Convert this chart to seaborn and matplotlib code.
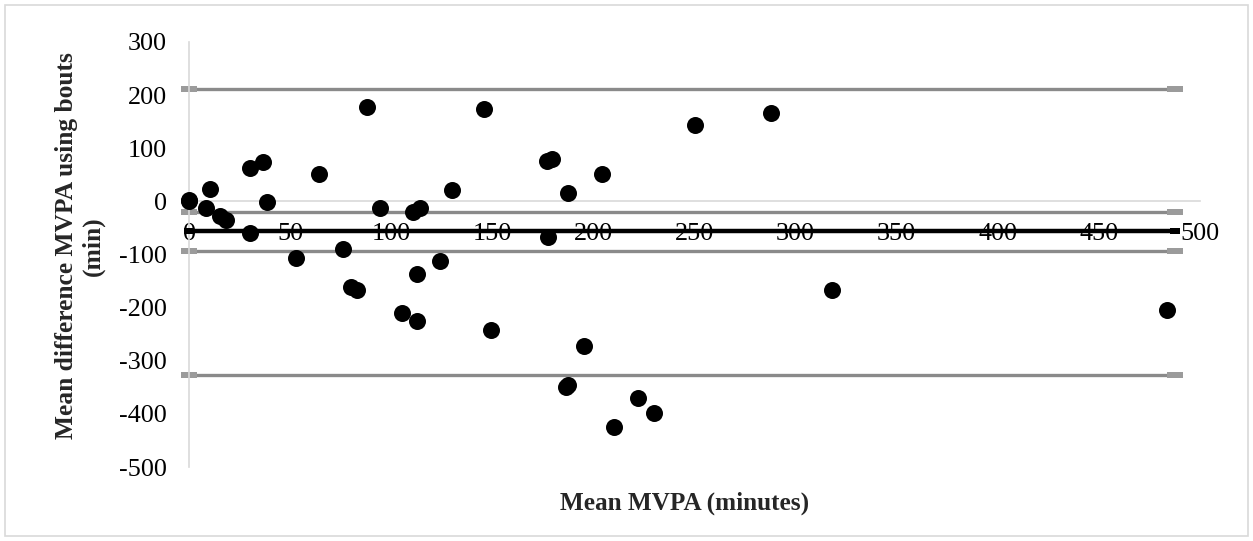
import matplotlib
matplotlib.use("Agg")
import matplotlib.pyplot as plt
import seaborn as sns
import pandas as pd
from matplotlib.patches import Rectangle

# Data
mean_mvpa = [0, 0, 8.4, 10.4, 15.3, 18.3, 30.0, 36.8, 38.7, 30.2, 52.8, 64.3,
             76.3, 80.1, 82.9, 87.9, 94.5, 105.5, 111.0, 112.6, 112.9, 114.2,
             124.0, 129.9, 146.0, 149.6, 176.9, 179.4, 177.3, 186.4, 187.6,
             187.6, 195.5, 204.4, 210.3, 222.2, 229.9, 250.0, 287.8, 318.1, 483.8]
mean_diff = [0, 2, -12, 23, -27, -35, 63, 74, -2, -59, -106, 51,
             -89, -161, -166, 177, -12, -210, -20, -136, -226, -12,
             -112, 21, 174, -243, 76, 80, -67, -349, -345,
             16, -272, 51, -425, -370, -398, 143, 167, -166, -204]

# Reference lines (limits of agreement, CI of the mean, mean bias)
line_x = [0, 487.6]
gray_levels = [211, -20, -94, -327]
mean_bias = -56

x_ticks = [0, 50, 100, 150, 200, 250, 300, 350, 400, 450, 500]
y_ticks = [300, 200, 100, 0, -100, -200, -300, -400, -500]

sns.set_theme(style="white")
plt.rcParams["font.family"] = ["Liberation Serif", "DejaVu Serif"]

W, H = 1253, 541
fig = plt.figure(figsize=(W / 100, H / 100), dpi=100)
ax = fig.add_axes([189 / W, 1 - 467 / H, (1200 - 189) / W, (467 - 42) / H])

df = pd.DataFrame({"x": mean_mvpa, "y": mean_diff})

dash_marker = [(-1.5, -0.5), (1.5, -0.5), (1.5, 0.5), (-1.5, 0.5), (-1.5, -0.5)]
box_marker = [(-0.75, -0.5), (0.75, -0.5), (0.75, 0.5), (-0.75, 0.5), (-0.75, -0.5)]

for lvl in gray_levels:
    ax.plot(line_x, [lvl, lvl], color="#8a8a8a", lw=2.4, marker=dash_marker,
            markersize=11, markerfacecolor="#9b9b9b", markeredgewidth=0,
            solid_capstyle="butt", zorder=2, clip_on=False)
ax.plot(line_x, [mean_bias, mean_bias], color="black", lw=3.2, marker=box_marker,
        markersize=6.5, markerfacecolor="black", markeredgewidth=0, zorder=3,
        clip_on=False)

sns.scatterplot(data=df, x="x", y="y", ax=ax, color="black", s=150,
                linewidth=0, zorder=4, clip_on=False)

ax.set_xlim(0, 500)
ax.set_ylim(-500, 300)
ax.set_xticks(x_ticks)
ax.set_yticks(y_ticks)
ax.set_xticklabels([str(t) for t in x_ticks])
ax.set_yticklabels([str(t) for t in y_ticks])
ax.set_xlabel("")
ax.set_ylabel("")

for s in ["top", "right"]:
    ax.spines[s].set_visible(False)
ax.spines["bottom"].set_position(("data", 0))
ax.spines["bottom"].set_color("#d9d9d9")
ax.spines["bottom"].set_linewidth(1.2)
ax.spines["bottom"].set_zorder(1)
ax.spines["left"].set_color("#d9d9d9")
ax.spines["left"].set_linewidth(1.2)

ax.tick_params(axis="both", length=0, labelsize=18.8, colors="black")
ax.tick_params(axis="x", pad=15.5)
ax.tick_params(axis="y", pad=16)
for lab in ax.get_xticklabels():
    lab.set_zorder(1)

fig.text(685 / W, 1 - 503 / H, "Mean MVPA (minutes)", ha="center", va="center",
         fontsize=18.2, fontweight="bold")
fig.text(80 / W, 1 - 246 / H, "Mean difference MVPA using bouts\n(min)",
         ha="center", va="center", rotation=90, fontsize=18.4,
         fontweight="bold", multialignment="center", linespacing=1.2)

fig.patches.append(Rectangle((5 / W, 5 / H), (W - 10) / W, (H - 10) / H,
                             transform=fig.transFigure, fill=False,
                             edgecolor="#d9d9d9", lw=1.2))

fig.savefig("out.png", dpi=100)
